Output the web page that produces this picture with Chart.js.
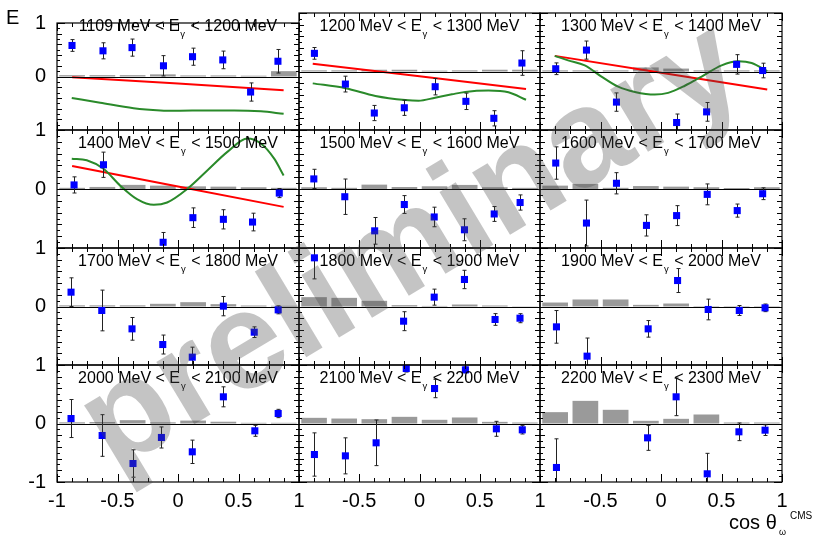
<!DOCTYPE html>
<html>
<head>
<meta charset="utf-8">
<script src="https://cdn.jsdelivr.net/npm/chart.js@4.4.1/dist/chart.umd.min.js"></script>
<style>
body { margin: 0; background: #fff; font-family: "Liberation Sans", Arial, sans-serif; }
#page { position: relative; width: 818px; height: 538px; overflow: hidden; }
#page canvas { position: absolute; left: 0; top: 0; }
.ttl { position: absolute; font-size: 16px; line-height: 16px; white-space: nowrap; transform: translateX(-50%); color: #000; }
.ttl sub { font-size: 9.5px; vertical-align: -6px; line-height: 0; margin: 0 1px; }
.lbl { position: absolute; white-space: nowrap; color: #000; line-height: 1; }
#wm { position: absolute; left: 408px; top: 240px; transform: translate(-50%, -50%) rotate(-31deg);
      font-weight: bold; font-size: 138px; line-height: 1; color: rgba(70, 70, 70, 0.32); white-space: nowrap; pointer-events: none; }
</style>
</head>
<body>
<div id="page"></div>
<script>
// photon energy bins (MeV)
const eLow  = [1109, 1200, 1300, 1400, 1500, 1600, 1700, 1800, 1900, 2000, 2100, 2200];
const eHigh = [1200, 1300, 1400, 1500, 1600, 1700, 1800, 1900, 2000, 2100, 2200, 2300];

// cos theta bins (systematic bars)
const binCenters = [-0.875, -0.625, -0.375, -0.125, 0.125, 0.375, 0.625, 0.875];
const xTicks = [-1, -0.5, 0, 0.5, 1];
const yTicks = [-1, 0, 1];

// cos theta of every point, null where no point is shown
const pointX = [
  [-0.876, -0.62, -0.38, -0.12, 0.12, 0.37, 0.60, 0.826],
  [-0.872, -0.615, -0.375, -0.126, 0.13, 0.385, 0.617, 0.85],
  [-0.87, -0.616, -0.368, null, 0.129, 0.377, 0.625, 0.84],
  [-0.859, -0.616, null, -0.123, 0.123, 0.375, 0.616, 0.837],
  [-0.877, -0.62, -0.372, -0.126, 0.122, 0.373, 0.62, 0.835],
  [-0.87, -0.616, -0.368, -0.12, 0.129, 0.382, 0.63, 0.84],
  [-0.884, -0.63, -0.38, -0.126, 0.118, 0.375, 0.63, 0.828],
  [-0.872, null, null, -0.132, 0.122, 0.373, 0.627, 0.834],
  [-0.864, -0.611, null, -0.106, 0.137, 0.39, 0.647, 0.86],
  [-0.884, -0.627, -0.372, -0.137, 0.118, 0.375, 0.635, 0.828],
  [-0.872, -0.615, -0.36, -0.11, 0.125, 0.381, 0.638, 0.853],
  [-0.864, null, null, -0.111, 0.125, 0.382, 0.644, 0.86]
];

// helicity asymmetry E
const eValue = [
  [0.58, 0.48, 0.54, 0.2, 0.37, 0.31, -0.29, 0.285],
  [0.31, -0.215, -0.71, -0.62, -0.26, -0.51, -0.80, 0.145],
  [0.047, 0.366, -0.523, null, -0.872, -0.69, 0.122, 0.017],
  [0.069, 0.411, null, -0.903, -0.486, -0.514, -0.56, -0.069],
  [0.171, -0.131, -0.709, -0.263, -0.474, -0.691, -0.423, -0.229],
  [0.44, -0.577, 0.097, -0.617, -0.451, -0.091, -0.366, -0.08],
  [0.245, -0.068, -0.382, -0.65, -0.866, 0.006, -0.439, -0.057],
  [0.832, null, null, -0.251, 0.16, 0.462, -0.222, -0.2],
  [-0.348, -0.849, null, -0.382, 0.444, -0.051, -0.068, -0.023],
  [0.085, -0.205, -0.684, -0.239, -0.484, 0.456, -0.125, 0.171],
  [-0.53, -0.553, -0.33, 0.94, 0.598, 0.917, -0.091, -0.108],
  [-0.752, null, null, -0.245, 0.456, -0.86, -0.142, -0.114]
];

// statistical errors
const eError = [
  [0.11, 0.15, 0.16, 0.19, 0.16, 0.165, 0.17, 0.22],
  [0.10, 0.135, 0.13, 0.13, 0.14, 0.14, 0.13, 0.21],
  [0.10, 0.155, 0.157, null, 0.145, 0.16, 0.166, 0.125],
  [0.137, 0.214, null, 0.166, 0.166, 0.163, 0.15, 0.077],
  [0.163, 0.3, 0.226, 0.151, 0.166, 0.186, 0.126, 0.129],
  [0.274, 0.389, 0.18, 0.18, 0.169, 0.177, 0.111, 0.1],
  [0.245, 0.348, 0.194, 0.162, 0.171, 0.165, 0.091, 0.068],
  [0.36, null, null, 0.162, 0.137, 0.157, 0.1, 0.077],
  [0.279, 0.31, null, 0.142, 0.205, 0.177, 0.085, 0.065],
  [0.325, 0.356, 0.234, 0.18, 0.2, 0.171, 0.094, 0.071],
  [0.37, 0.308, 0.39, 0.06, 0.157, 0.05, 0.128, 0.071],
  [0.49, null, null, 0.214, 0.322, 0.35, 0.151, 0.091]
];

// systematic errors (grey bars)
const sysError = [
  [0.025, 0.025, 0.025, 0.04, 0.02, 0.02, 0.015, 0.1],
  [0.02, 0.02, 0.03, 0.03, 0.015, 0.02, 0.03, 0.03],
  [0.02, 0.02, 0.02, 0.07, 0.05, 0.02, 0.02, 0.02],
  [0.02, 0.035, 0.07, 0.057, 0.045, 0.04, 0.03, 0.02],
  [0.03, 0.02, 0.074, 0.034, 0.046, 0.069, 0.03, 0.02],
  [0.057, 0.086, 0.02, 0.05, 0.04, 0.03, 0.017, 0.03],
  [0.02, 0.02, 0.02, 0.046, 0.074, 0.04, 0.017, 0.012],
  [0.16, 0.148, 0.097, 0.023, 0.01, 0.034, 0.017, 0.005],
  [0.068, 0.12, 0.12, 0.028, 0.051, 0.008, 0.008, 0.008],
  [0.02, 0.025, 0.057, 0.02, 0.05, 0.03, 0.012, 0.012],
  [0.097, 0.085, 0.074, 0.114, 0.063, 0.103, 0.028, 0.017],
  [0.194, 0.387, 0.234, 0.046, 0.08, 0.154, 0.017, 0.017]
];

// model curves, only for the first four energy bins
const redX = [
  [-0.875, 0, 0.873],
  [-0.886, 0, 0.884],
  [-0.878, 0, 0.878],
  [-0.875, 0, 0.873]
];
const redE = [
  [-0.012, -0.13, -0.256],
  [0.134, -0.08, -0.30],
  [0.267, -0.02, -0.308],
  [0.389, 0.042, -0.303]
];
const greenX = [
  [-0.878, -0.643, -0.367, -0.145, -0.007, 0.242, 0.463, 0.685, 0.873],
  [-0.886, -0.615, -0.366, -0.118, -0.008, 0.13, 0.269, 0.379, 0.572, 0.738, 0.884],
  [-0.878, -0.768, -0.63, -0.492, -0.354, -0.216, -0.051, 0.059, 0.197, 0.336, 0.501, 0.639, 0.749, 0.878],
  [-0.878, -0.754, -0.616, -0.477, -0.339, -0.2, -0.09, 0.076, 0.242, 0.408, 0.574, 0.685, 0.795, 0.873]
];
const greenE = [
  [-0.40, -0.49, -0.593, -0.634, -0.64, -0.634, -0.634, -0.651, -0.698],
  [-0.203, -0.285, -0.419, -0.488, -0.5, -0.448, -0.39, -0.349, -0.326, -0.355, -0.483],
  [0.267, 0.19, 0.105, -0.087, -0.26, -0.35, -0.395, -0.366, -0.244, -0.087, 0.105, 0.174, 0.145, 0.006],
  [0.514, 0.486, 0.343, 0.057, -0.171, -0.269, -0.229, 0, 0.314, 0.629, 0.857, 0.771, 0.514, 0.229]
];

// panel frame positions on the page
const colEdges = [57, 299, 540, 782];
const rowEdges = [13, 130, 248, 365, 482];
const W = 818, H = 538;
const yAxisW = 50, xAxisH = 34;
const page = document.getElementById('page');

const pairs = (xs, ys) => xs.map((x, k) => ({ x: x, y: ys[k] })).filter(p => p.x !== null && p.y !== null);

function drawTicks(ctx, a, sx, sy) {
    ctx.strokeStyle = '#000';
    ctx.lineWidth = 1;
    ctx.beginPath();
    for (let v = -1; v <= 1.0001; v += 0.125) {
        const px = Math.round(sx.getPixelForValue(v)) + 0.5;
        const len = Math.abs(v * 2 - Math.round(v * 2)) < 1e-6 ? 8 : 4;
        ctx.moveTo(px, a.bottom); ctx.lineTo(px, a.bottom - len);
        ctx.moveTo(px, a.top); ctx.lineTo(px, a.top + len);
    }
    for (let k = -10; k <= 10; k++) {
        const v = k / 10;
        const py = Math.round(sy.getPixelForValue(v)) + 0.5;
        const len = k % 10 === 0 ? 8 : (k % 2 === 0 ? 5 : 3);
        ctx.moveTo(a.left, py); ctx.lineTo(a.left + len, py);
        ctx.moveTo(a.right, py); ctx.lineTo(a.right - len, py);
    }
    ctx.stroke();
}

const panelPlugin = {
    id: 'panel',
    beforeDatasetDraw(chart, args, opts) {
        if (args.index !== 3) return;
        const ctx = chart.ctx, a = chart.chartArea;
        const sx = chart.scales.x, sy = chart.scales.y;
        const i = opts.index;
        ctx.save();
        ctx.beginPath();
        ctx.rect(a.left, a.top, a.right - a.left, a.bottom - a.top);
        ctx.clip();
        // zero line
        const y0 = Math.round(sy.getPixelForValue(0)) + 0.5;
        ctx.strokeStyle = '#000';
        ctx.lineWidth = 1;
        ctx.beginPath();
        ctx.moveTo(a.left, y0); ctx.lineTo(a.right, y0);
        ctx.stroke();
        // error bars
        ctx.strokeStyle = '#222';
        ctx.beginPath();
        pointX[i].forEach((x, k) => {
            if (x === null || eValue[i][k] === null) return;
            const px = Math.round(sx.getPixelForValue(x)) + 0.5;
            const hi = sy.getPixelForValue(eValue[i][k] + eError[i][k]);
            const lo = sy.getPixelForValue(eValue[i][k] - eError[i][k]);
            ctx.moveTo(px, hi); ctx.lineTo(px, lo);
            ctx.moveTo(px - 2, hi); ctx.lineTo(px + 2, hi);
            ctx.moveTo(px - 2, lo); ctx.lineTo(px + 2, lo);
        });
        ctx.stroke();
        ctx.restore();
    },
    afterDraw(chart) {
        const ctx = chart.ctx, a = chart.chartArea;
        ctx.save();
        drawTicks(ctx, a, chart.scales.x, chart.scales.y);
        ctx.strokeStyle = '#000';
        ctx.lineWidth = 1.2;
        ctx.strokeRect(a.left, a.top, a.right - a.left, a.bottom - a.top);
        ctx.restore();
    }
};

for (let i = 0; i < 12; i++) {
    const row = Math.floor(i / 3), col = i % 3;
    const canvas = document.createElement('canvas');
    canvas.width = W; canvas.height = H;
    page.appendChild(canvas);

    const datasets = [
        {
            type: 'bar',
            data: binCenters.map((x, k) => ({ x: x, y: sysError[i][k] })),
            backgroundColor: '#9a9a9a',
            borderWidth: 0,
            barPercentage: 0.85,
            categoryPercentage: 1,
            order: 4
        },
        {
            type: 'line',
            data: i < 4 ? pairs(redX[i], redE[i]) : [],
            borderColor: '#ff0000',
            borderWidth: 2,
            pointRadius: 0,
            tension: 0,
            order: 3
        },
        {
            type: 'line',
            data: i < 4 ? pairs(greenX[i], greenE[i]) : [],
            borderColor: '#2a8a2a',
            borderWidth: 2,
            pointRadius: 0,
            cubicInterpolationMode: 'monotone',
            order: 2
        },
        {
            type: 'scatter',
            data: pairs(pointX[i], eValue[i]),
            pointStyle: 'rect',
            pointRadius: 5,
            backgroundColor: '#0000ff',
            borderWidth: 0,
            order: 1
        }
    ];

    new Chart(canvas, {
        type: 'scatter',
        data: { datasets: datasets },
        options: {
            responsive: false,
            animation: false,
            events: [],
            layout: {
                padding: {
                    left: colEdges[col] - yAxisW,
                    right: W - colEdges[col + 1],
                    top: rowEdges[row],
                    bottom: H - rowEdges[row + 1] - xAxisH
                }
            },
            plugins: { legend: { display: false }, tooltip: { enabled: false }, panel: { index: i } },
            scales: {
                x: {
                    type: 'linear', min: -1, max: 1, offset: false,
                    grid: { display: false, drawTicks: false },
                    border: { display: false },
                    afterBuildTicks: s => { s.ticks = xTicks.map(v => ({ value: v })); },
                    afterFit: s => { s.height = xAxisH; },
                    ticks: {
                        display: row === 3,
                        autoSkip: false, maxRotation: 0, padding: 7,
                        color: '#000',
                        font: { family: 'Liberation Sans', size: 20 },
                        callback: v => (v === -1 && col > 0) ? '' : String(v)
                    }
                },
                y: {
                    type: 'linear', min: -1, max: 1,
                    grid: { display: false, drawTicks: false },
                    border: { display: false },
                    afterBuildTicks: s => { s.ticks = yTicks.map(v => ({ value: v })); },
                    afterFit: s => { s.width = yAxisW; },
                    ticks: {
                        display: col === 0,
                        autoSkip: false, padding: 11,
                        color: '#000',
                        font: { family: 'Liberation Sans', size: 20 },
                        callback: v => (v === -1 && row < 3) ? '' : String(v)
                    }
                }
            }
        },
        plugins: [panelPlugin]
    });

    const t = document.createElement('div');
    t.className = 'ttl';
    t.style.left = ((colEdges[col] + colEdges[col + 1]) / 2) + 'px';
    t.style.top = (rowEdges[row] + 5) + 'px';
    t.innerHTML = eLow[i] + ' MeV &lt; E<sub>γ</sub> &lt; ' + eHigh[i] + ' MeV';
    page.appendChild(t);
}

function addLabel(text, left, top, size) {
    const d = document.createElement('div');
    d.className = 'lbl';
    d.style.left = left + 'px';
    d.style.top = top + 'px';
    d.style.fontSize = size + 'px';
    d.textContent = text;
    page.appendChild(d);
}
addLabel('E', 6, 7, 20);
addLabel('cos θ', 729, 512, 20);
addLabel('ω', 779, 528, 9);
addLabel('CMS', 790, 511, 10);

const wm = document.createElement('div');
wm.id = 'wm';
wm.textContent = 'preliminary';
page.appendChild(wm);
</script>
</body>
</html>
